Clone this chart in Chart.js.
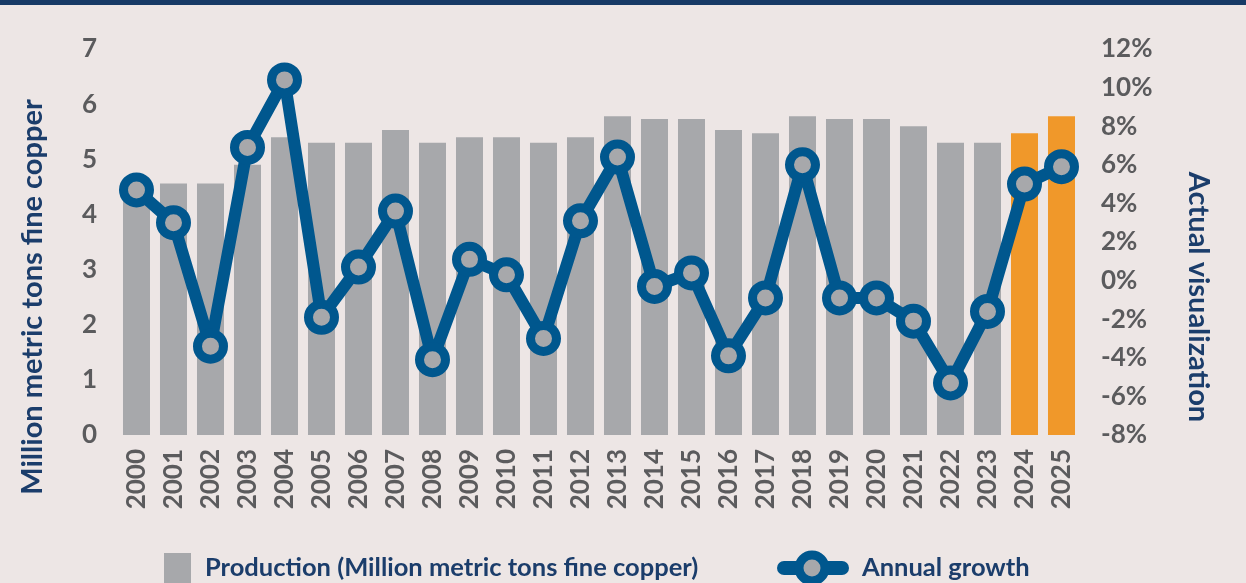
<!DOCTYPE html>
<html>
<head>
<meta charset="utf-8">
<script src="https://cdn.jsdelivr.net/npm/chart.js@4"></script>
<style>
  html, body { margin: 0; padding: 0; background: #ede6e5; }
  #wrap { width: 1246px; height: 583px; position: relative; }
</style>
</head>
<body>
<div id="wrap"><canvas id="copperChart"></canvas></div>
<script>
const years = ['2000', '2001', '2002', '2003', '2004', '2005', '2006', '2007', '2008', '2009',
  '2010', '2011', '2012', '2013', '2014', '2015', '2016', '2017', '2018', '2019',
  '2020', '2021', '2022', '2023', '2024', '2025'];
const forecastYears = ['2024', '2025'];
const production = [4.4, 4.56, 4.56, 4.9, 5.4, 5.3, 5.3, 5.53, 5.3, 5.4,
  5.4, 5.3, 5.4, 5.78, 5.73, 5.73, 5.53, 5.47, 5.78, 5.73,
  5.73, 5.6, 5.3, 5.3, 5.47, 5.78];
const growth = [4.7, 3.0, -3.4, 6.9, 10.4, -1.9, 0.7, 3.6, -4.1, 1.1,
  0.3, -3.0, 3.1, 6.4, -0.3, 0.4, -3.9, -0.9, 6.0, -0.9,
  -0.9, -2.1, -5.3, -1.6, 5.0, 5.9];
const leftTicks = { min: 0, max: 7, step: 1 };
const rightTicks = { min: -8, max: 12, step: 2 };

const navy = '#1b3d6b';
const lineBlue = '#00578e';
const barGray = '#a7a8ab';
const orange = '#f0982a';
const tickGray = '#5b5b5d';
const bg = '#ede6e5';
const FONT = "Lato, 'Open Sans', sans-serif";

const barColors = years.map(y => forecastYears.includes(y) ? orange : barGray);

// background, top band, axis titles and the legend
const decor = {
  id: 'decor',
  beforeDraw(chart) {
    const { ctx, width } = chart;
    ctx.save();
    ctx.fillStyle = bg;
    ctx.fillRect(0, 0, width, chart.height);
    ctx.fillStyle = '#173a66';
    ctx.fillRect(0, 0, width, 5);
    ctx.restore();
  },
  afterDraw(chart) {
    const { ctx } = chart;
    ctx.save();
    ctx.fillStyle = navy;
    ctx.font = `bold 29px ${FONT}`;
    ctx.textAlign = 'center';
    ctx.textBaseline = 'middle';

    ctx.save();
    ctx.translate(33, 297);
    ctx.rotate(-Math.PI / 2);
    ctx.fillText('Million metric tons fine copper', 0, 0);
    ctx.restore();

    ctx.save();
    ctx.translate(1198, 297);
    ctx.rotate(Math.PI / 2);
    ctx.fillText('Actual visualization', 0, 0);
    ctx.restore();

    // legend
    const ly = 568;
    ctx.font = `bold 25.5px ${FONT}`;
    ctx.textAlign = 'left';
    ctx.fillStyle = barGray;
    ctx.fillRect(164, 553, 27, 30);
    ctx.fillStyle = navy;
    ctx.fillText(chart.data.datasets[0].label, 205, ly);

    ctx.strokeStyle = lineBlue;
    ctx.lineWidth = 14;
    ctx.lineCap = 'round';
    ctx.beginPath();
    ctx.moveTo(784, ly);
    ctx.lineTo(842, ly);
    ctx.stroke();
    ctx.beginPath();
    ctx.arc(812, ly, 13, 0, Math.PI * 2);
    ctx.fillStyle = barGray;
    ctx.fill();
    ctx.lineWidth = 9;
    ctx.stroke();
    ctx.fillStyle = navy;
    ctx.fillText(chart.data.datasets[1].label, 862, ly);
    ctx.restore();
  }
};

const tickFont = { family: FONT, size: 26, weight: 'bold' };

new Chart(document.getElementById('copperChart'), {
  type: 'bar',
  data: {
    labels: years,
    datasets: [{
      label: 'Production (Million metric tons fine copper)',
      data: production,
      backgroundColor: barColors,
      yAxisID: 'y',
      barPercentage: 0.73,
      categoryPercentage: 1,
      order: 2
    }, {
      type: 'line',
      label: 'Annual growth',
      data: growth,
      yAxisID: 'y1',
      borderColor: lineBlue,
      borderWidth: 12,
      borderJoinStyle: 'round',
      borderCapStyle: 'round',
      pointRadius: 13,
      pointHoverRadius: 13,
      pointBorderWidth: 9,
      pointBackgroundColor: barGray,
      pointBorderColor: lineBlue,
      tension: 0,
      order: 1
    }]
  },
  options: {
    responsive: true,
    maintainAspectRatio: false,
    animation: false,
    layout: { padding: { top: 49, left: 0, right: 0, bottom: 0 } },
    plugins: {
      legend: { display: false },
      tooltip: { enabled: false }
    },
    scales: {
      x: {
        grid: { display: false, drawTicks: false },
        border: { display: false },
        ticks: {
          autoSkip: false,
          minRotation: 90,
          maxRotation: 90,
          padding: 14,
          color: tickGray,
          font: tickFont
        },
        afterFit(scale) { scale.height = 148; }
      },
      y: {
        position: 'left',
        min: leftTicks.min,
        max: leftTicks.max,
        grid: { display: false, drawTicks: false },
        border: { display: false },
        ticks: { stepSize: leftTicks.step, padding: 21, color: tickGray, font: tickFont },
        afterFit(scale) { scale.width = 118; }
      },
      y1: {
        position: 'right',
        min: rightTicks.min,
        max: rightTicks.max,
        grid: { display: false, drawTicks: false },
        border: { display: false },
        ticks: {
          stepSize: rightTicks.step,
          padding: 21,
          color: tickGray,
          font: tickFont,
          callback: v => v + '%'
        },
        afterFit(scale) { scale.width = 166; }
      }
    }
  },
  plugins: [decor]
});
</script>
</body>
</html>
